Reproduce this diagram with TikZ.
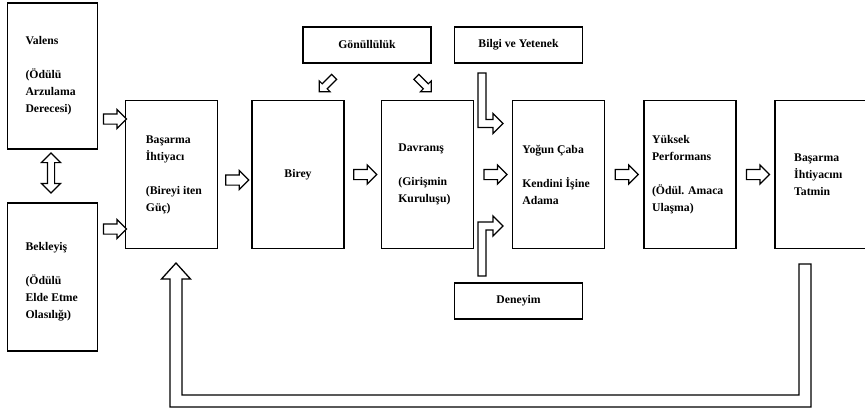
\documentclass[tikz,border=0pt]{standalone}
\usepackage{fontspec}
\setmainfont{Liberation Serif}
\usetikzlibrary{shapes.arrows,calc,positioning}
\tikzset{kutu/.style={draw, line width=1.6pt, minimum width=2.76cm, minimum height=4.44cm},
         yazi/.style={align=left, anchor=west, inner sep=0pt},
         ustkutu/.style={draw, line width=1.6pt, minimum width=3.84cm, minimum height=1.1cm, align=center},
         ok/.style={single arrow, draw, fill=white, line width=1pt, inner xsep=0pt,
                    inner ysep=0.135cm, minimum height=0.69cm, single arrow head extend=0.135cm},
         egik/.style={ok, inner ysep=0.09cm, minimum height=0.63cm, single arrow head extend=0.12cm},
         ciftok/.style={double arrow, draw, fill=white, line width=1pt, inner xsep=0pt,
                    inner ysep=0.09cm, minimum height=1.2cm, double arrow head extend=0.18cm},
         blokok/.style={draw, fill=white, line width=1.1pt, line join=miter}
}

\begin{document}
\begin{tikzpicture}[x=0.03cm,y=-0.03cm,
    every node/.style={font=\fontsize{10}{14.5}\selectfont\bfseries}]
  \useasboundingbox (0,0) rectangle (865,414);
  % kutular
  \node[kutu, minimum width=2.7cm, minimum height=4.38cm] (valens) at (52.5,76) {};
  \node[kutu, minimum width=2.7cm] (bekleyis) at (52.5,277) {};
  \node[kutu] (basarma) at (171.5,174.5) {};
  \node[kutu] (birey) at (298,174.5) {Birey};
  \node[kutu] (davranis) at (427.5,174.5) {};
  \node[kutu] (yogun) at (558.5,174.5) {};
  \node[kutu] (yuksek) at (690,174.5) {};
  \node[kutu] (tatmin) at (821,174.5) {};
  \node[ustkutu] (gonullu) at (367,45) {Gönüllülük};
  \node[ustkutu] (bilgi) at (518.5,45) {Bilgi ve Yetenek};
  \node[ustkutu] (deneyim) at (518.5,301) {Deneyim};

  % kutu yazilari
  \node[yazi] (valensY) at ([xshift=16pt]valens.west) {Valens\\[14.5pt](Ödülü\\Arzulama\\Derecesi)};
  \node[yazi] (bekleyisY) at ([xshift=16pt,yshift=-4pt]bekleyis.west) {Bekleyiş\\[14.5pt](Ödülü\\Elde Etme\\Olasılığı)};
  \node[yazi] (basarmaY) at ([xshift=18pt]basarma.west) {Başarma\\İhtiyacı\\[14.5pt](Bireyi iten\\Güç)};
  \node[yazi] (davranisY) at ([xshift=15pt]davranis.west) {Davranış\\[14.5pt](Girişmin\\Kuruluşu)};
  \node[yazi] (yogunY) at ([xshift=9pt]yogun.west) {Yoğun Çaba\\[14.5pt]Kendini İşine\\Adama};
  \node[yazi] (yuksekY) at ([xshift=7.5pt]yuksek.west) {Yüksek\\Performans\\[14.5pt](Ödül. Amaca\\Ulaşma)};
  \node[yazi] (tatminY) at ([xshift=17pt]tatmin.west) {Başarma\\İhtiyacını\\Tatmin};

  % oklar
  \node[ok] (o1) at (112.5,119) {};
  \node[ok] (o2) at (112.5,229) {};
  \node[ciftok, rotate=90] (o0) at (51,173) {};
  \node[ok] (o3) at ($(basarma.east)!0.5!(birey.west)+(0,5.5)$) {};
  \node[ok] (o4) at ($(birey.east)!0.5!(davranis.west)$) {};
  \node[ok] (o5) at ($(davranis.east)!0.5!(yogun.west)$) {};
  \node[ok] (o6) at ($(yogun.east)!0.5!(yuksek.west)$) {};
  \node[ok] (o7) at ($(yuksek.east)!0.5!(tatmin.west)$) {};
  \node[egik, rotate=225] (g1) at (328,83) {};
  \node[egik, rotate=-45] (g2) at (422.5,83) {};

  % kirik oklar
  \coordinate (bilgiK) at (478,73);
  \coordinate (deneyimK) at (478,276);
  \coordinate (geriK) at (799,264);
  \draw[blokok] (bilgiK) -- ++(8,0) -- ++(0,46.5) -- ++(7,0) -- ++(0,-6) -- ++(10,10)
        -- ++(-10,10) -- ++(0,-6) -- ++(-15,0) -- cycle;
  \draw[blokok] (deneyimK) -- ++(8,0) -- ++(0,-46) -- ++(7,0) -- ++(0,6) -- ++(10,-10)
        -- ++(-10,-10) -- ++(0,6) -- ++(-15,0) -- cycle;
  \draw[blokok] (geriK) -- ++(12,0) -- ++(0,143) -- ++(-641,0) -- ++(0,-128) -- ++(-8.5,0)
        -- ++(14.5,-16) -- ++(14.5,16) -- ++(-8.5,0) -- ++(0,116) -- ++(617,0) -- cycle;
\end{tikzpicture}
\end{document}
